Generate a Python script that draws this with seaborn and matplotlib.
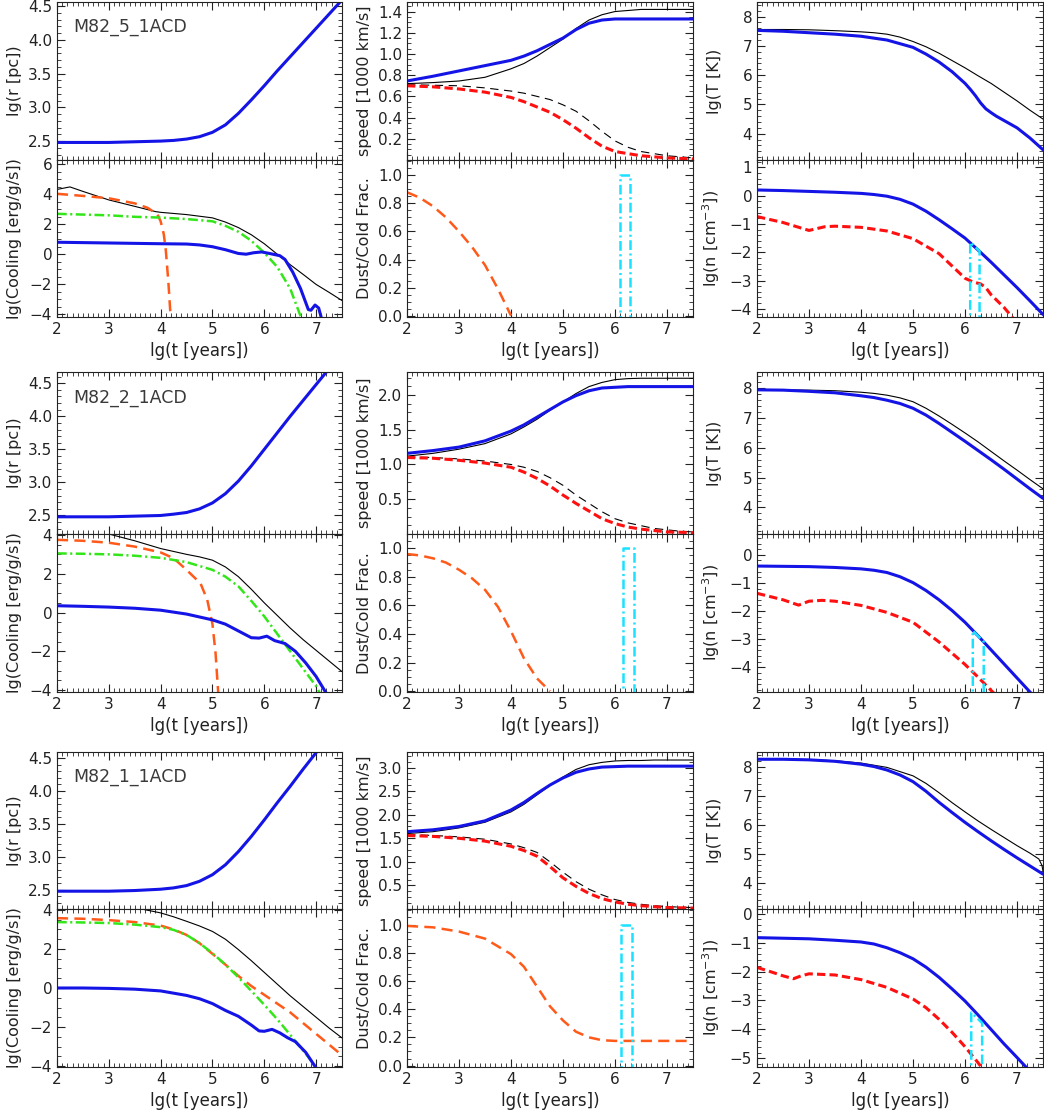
import matplotlib
matplotlib.use("Agg")
import matplotlib.pyplot as plt
from matplotlib.ticker import AutoMinorLocator, MultipleLocator, FuncFormatter
import seaborn as sns

# common time grid (lg t in years) used by most curves
lgt = [2.0, 2.5, 3.0, 3.5, 4.0, 4.25, 4.5, 4.75, 5.0, 5.25, 5.5, 5.75, 6.0, 6.25, 6.5, 6.75, 7.0, 7.25, 7.5]

# ---------------- M82_5_1ACD ----------------
m5_r = [2.48, 2.48, 2.48, 2.49, 2.50, 2.51, 2.53, 2.565, 2.63, 2.74, 2.91, 3.11, 3.32, 3.54, 3.75, 3.96, 4.17, 4.38, 4.59]
m5_cool_tot_t = [2.0, 2.25, 2.5, 3.0, 3.5, 3.9, 4.0, 4.5, 5.0, 5.25, 5.5, 5.75, 6.0, 6.25, 6.5, 6.75, 7.0, 7.25, 7.5]
m5_cool_tot = [4.33, 4.5, 4.2, 3.63, 3.2, 2.85, 2.8, 2.65, 2.43, 2.15, 1.78, 1.3, 0.7, 0.0, -0.7, -1.35, -2.02, -2.55, -3.1]
m5_cool_dust_t = [2.0, 2.5, 3.0, 3.5, 3.75, 3.94, 4.0, 4.06, 4.1, 4.15, 4.2]
m5_cool_dust = [4.04, 3.9, 3.74, 3.4, 3.1, 2.65, 2.2, 1.35, 0.26, -1.9, -4.6]
m5_cool_gas_t = [2.0, 2.5, 3.0, 3.5, 4.0, 4.5, 5.0, 5.25, 5.5, 5.75, 6.0, 6.25, 6.5, 6.75]
m5_cool_gas = [2.7, 2.65, 2.6, 2.5, 2.45, 2.35, 2.2, 1.9, 1.5, 0.9, 0.1, -0.85, -2.3, -4.6]
m5_cool_hot_t = [2.0, 3.0, 4.0, 4.5, 4.75, 5.0, 5.25, 5.5, 5.65, 5.8, 5.95, 6.1, 6.3, 6.4, 6.55, 6.7, 6.85, 6.9, 6.98, 7.05, 7.12]
m5_cool_hot = [0.8, 0.75, 0.7, 0.68, 0.62, 0.5, 0.3, 0.05, 0.0, 0.1, 0.15, 0.05, -0.1, -0.35, -1.2, -2.3, -3.7, -3.75, -3.4, -3.6, -4.5]
m5_v_tot = [0.72, 0.73, 0.745, 0.78, 0.86, 0.91, 0.98, 1.06, 1.14, 1.24, 1.32, 1.37, 1.40, 1.41, 1.42, 1.42, 1.42, 1.42, 1.42]
m5_v_hot = [0.745, 0.79, 0.84, 0.89, 0.94, 0.98, 1.03, 1.09, 1.15, 1.23, 1.29, 1.32, 1.33, 1.33, 1.33, 1.33, 1.33, 1.33, 1.33]
m5_v_tot_c = [0.71, 0.705, 0.70, 0.68, 0.65, 0.63, 0.60, 0.57, 0.52, 0.46, 0.37, 0.27, 0.18, 0.12, 0.08, 0.06, 0.04, 0.03, 0.02]
m5_v_cold = [0.70, 0.69, 0.67, 0.64, 0.59, 0.55, 0.50, 0.45, 0.38, 0.30, 0.21, 0.13, 0.08, 0.06, 0.04, 0.03, 0.02, 0.015, 0.01]
m5_dust_t = [2.0, 2.25, 2.5, 2.75, 3.0, 3.25, 3.5, 3.75, 4.0]
m5_dust = [0.88, 0.84, 0.78, 0.70, 0.60, 0.49, 0.36, 0.19, 0.0]
m5_window = [6.1, 6.28]
m5_T_tot = [7.56, 7.56, 7.55, 7.52, 7.48, 7.45, 7.40, 7.3, 7.15, 6.97, 6.75, 6.5, 6.25, 5.98, 5.72, 5.42, 5.12, 4.8, 4.5]
m5_T_hot_t = [2.0, 2.5, 3.0, 3.5, 4.0, 4.5, 5.0, 5.25, 5.5, 5.75, 6.0, 6.1, 6.2, 6.3, 6.4, 6.5, 6.6, 6.75, 7.0, 7.25, 7.5]
m5_T_hot = [7.53, 7.5, 7.45, 7.4, 7.33, 7.2, 6.95, 6.72, 6.45, 6.12, 5.72, 5.52, 5.3, 5.05, 4.85, 4.72, 4.6, 4.45, 4.2, 3.85, 3.45]
m5_n_hot = [0.2, 0.18, 0.15, 0.12, 0.08, 0.04, -0.02, -0.13, -0.3, -0.55, -0.85, -1.17, -1.5, -1.92, -2.35, -2.8, -3.25, -3.72, -4.2]
m5_n_cold_t = [2.0, 2.5, 3.0, 3.3, 3.5, 4.0, 4.5, 5.0, 5.5, 6.0, 6.15, 6.3, 6.4, 6.5, 6.75, 7.0]
m5_n_cold = [-0.74, -0.95, -1.23, -1.1, -1.08, -1.12, -1.25, -1.52, -2.05, -2.92, -3.05, -3.12, -3.25, -3.5, -3.95, -4.5]
m5_n_edge = [-1.65, -1.96]

# ---------------- M82_2_1ACD ----------------
m2_r = [2.48, 2.48, 2.48, 2.49, 2.50, 2.52, 2.545, 2.6, 2.69, 2.83, 3.02, 3.25, 3.5, 3.75, 4.0, 4.24, 4.48, 4.72, 4.96]
m2_cool_tot = [4.6, 4.35, 4.05, 3.7, 3.3, 3.15, 3.0, 2.87, 2.7, 2.35, 1.85, 1.2, 0.5, -0.15, -0.8, -1.4, -1.95, -2.5, -3.05]
m2_cool_dust_t = [2.0, 2.5, 3.0, 3.5, 4.0, 4.25, 4.5, 4.77, 4.9, 5.0, 5.06, 5.12]
m2_cool_dust = [3.75, 3.7, 3.6, 3.4, 3.1, 2.8, 2.2, 1.5, 0.65, -0.6, -2.1, -4.5]
m2_cool_gas_t = [2.0, 2.5, 3.0, 3.5, 4.0, 4.5, 5.0, 5.25, 5.5, 5.75, 6.0, 6.25, 6.5, 6.75, 7.0, 7.1]
m2_cool_gas = [3.05, 3.03, 3.0, 2.93, 2.82, 2.6, 2.2, 1.85, 1.35, 0.6, -0.2, -1.1, -2.0, -2.9, -3.8, -4.3]
m2_cool_hot_t = [2.0, 2.5, 3.0, 3.5, 4.0, 4.5, 5.0, 5.25, 5.5, 5.75, 5.9, 6.05, 6.2, 6.4, 6.6, 6.8, 7.0, 7.25]
m2_cool_hot = [0.35, 0.32, 0.28, 0.22, 0.12, -0.08, -0.38, -0.6, -0.95, -1.3, -1.32, -1.22, -1.45, -1.6, -2.0, -2.6, -3.3, -4.4]
m2_v_tot = [1.12, 1.16, 1.22, 1.3, 1.44, 1.54, 1.65, 1.78, 1.9, 2.02, 2.12, 2.18, 2.22, 2.235, 2.24, 2.24, 2.24, 2.24, 2.24]
m2_v_hot = [1.16, 1.2, 1.25, 1.34, 1.48, 1.57, 1.68, 1.79, 1.9, 1.99, 2.06, 2.1, 2.11, 2.12, 2.12, 2.12, 2.12, 2.12, 2.12]
m2_v_tot_c = [1.11, 1.10, 1.08, 1.05, 1.0, 0.96, 0.9, 0.81, 0.7, 0.56, 0.44, 0.32, 0.22, 0.16, 0.12, 0.08, 0.06, 0.04, 0.03]
m2_v_cold = [1.1, 1.09, 1.06, 1.02, 0.96, 0.89, 0.8, 0.69, 0.56, 0.44, 0.33, 0.22, 0.15, 0.1, 0.07, 0.05, 0.03, 0.025, 0.02]
m2_dust_t = [2.0, 2.25, 2.5, 2.75, 3.0, 3.25, 3.5, 3.75, 4.0, 4.25, 4.5, 4.75]
m2_dust = [0.96, 0.95, 0.93, 0.9, 0.85, 0.79, 0.71, 0.59, 0.42, 0.23, 0.09, 0.0]
m2_window = [6.15, 6.36]
m2_T_tot = [7.95, 7.95, 7.94, 7.92, 7.87, 7.83, 7.77, 7.68, 7.55, 7.33, 7.07, 6.79, 6.5, 6.2, 5.88, 5.56, 5.25, 4.93, 4.62]
m2_T_hot = [7.95, 7.94, 7.9, 7.85, 7.75, 7.69, 7.6, 7.49, 7.33, 7.1, 6.82, 6.52, 6.22, 5.91, 5.6, 5.28, 4.95, 4.62, 4.3]
m2_n_hot = [-0.4, -0.41, -0.42, -0.45, -0.5, -0.55, -0.63, -0.78, -0.99, -1.27, -1.6, -1.98, -2.4, -2.88, -3.38, -3.88, -4.38, -4.88, -5.38]
m2_n_cold_t = [2.0, 2.5, 2.8, 3.0, 3.25, 3.5, 4.0, 4.5, 5.0, 5.5, 6.0, 6.25, 6.5, 6.6]
m2_n_cold = [-1.37, -1.6, -1.79, -1.65, -1.62, -1.65, -1.8, -2.05, -2.4, -3.1, -3.9, -4.35, -4.82, -5.0]
m2_n_edge = [-2.7, -3.1]

# ---------------- M82_1_1ACD ----------------
m1_r = [2.48, 2.48, 2.48, 2.49, 2.51, 2.53, 2.565, 2.63, 2.73, 2.88, 3.08, 3.31, 3.56, 3.82, 4.07, 4.33, 4.58, 4.84, 5.1]
m1_cool_tot = [4.8, 4.6, 4.4, 4.12, 3.85, 3.65, 3.42, 3.18, 2.9, 2.5, 1.97, 1.4, 0.8, 0.2, -0.4, -0.95, -1.5, -2.05, -2.56]
m1_cool_dust = [3.58, 3.55, 3.48, 3.38, 3.2, 3.0, 2.72, 2.3, 1.75, 1.2, 0.62, 0.1, -0.35, -0.8, -1.25, -1.8, -2.35, -2.9, -3.45]
m1_cool_gas_t = [2.0, 2.5, 3.0, 3.5, 4.0, 4.25, 4.5, 4.75, 5.0, 5.25, 5.5, 5.75, 6.0, 6.25, 6.5, 6.75, 7.0, 7.1]
m1_cool_gas = [3.38, 3.36, 3.33, 3.25, 3.12, 2.98, 2.72, 2.3, 1.78, 1.2, 0.55, -0.15, -0.86, -1.6, -2.4, -3.2, -4.05, -4.5]
m1_cool_hot_t = [2.0, 2.5, 3.0, 3.5, 4.0, 4.5, 4.75, 5.0, 5.25, 5.5, 5.75, 5.9, 6.0, 6.15, 6.3, 6.45, 6.6, 6.8, 7.0, 7.1]
m1_cool_hot = [0.0, 0.0, -0.02, -0.06, -0.15, -0.38, -0.55, -0.8, -1.15, -1.45, -1.9, -2.2, -2.22, -2.12, -2.3, -2.55, -2.75, -3.3, -4.1, -4.6]
m1_v_tot = [1.6, 1.64, 1.72, 1.84, 2.06, 2.22, 2.42, 2.62, 2.8, 2.96, 3.06, 3.11, 3.14, 3.15, 3.15, 3.16, 3.16, 3.16, 3.16]
m1_v_hot = [1.64, 1.68, 1.75, 1.87, 2.1, 2.26, 2.45, 2.63, 2.78, 2.9, 2.97, 3.01, 3.02, 3.03, 3.03, 3.03, 3.03, 3.03, 3.03]
m1_v_tot_c = [1.58, 1.56, 1.53, 1.48, 1.38, 1.3, 1.2, 1.0, 0.78, 0.58, 0.42, 0.3, 0.2, 0.14, 0.1, 0.07, 0.05, 0.04, 0.03]
m1_v_cold = [1.56, 1.54, 1.5, 1.44, 1.33, 1.24, 1.12, 0.9, 0.66, 0.48, 0.33, 0.22, 0.15, 0.1, 0.07, 0.05, 0.03, 0.025, 0.02]
m1_dust_t = [2.0, 2.5, 3.0, 3.5, 4.0, 4.25, 4.5, 4.75, 5.0, 5.25, 5.5, 5.75, 6.0, 6.5, 7.0, 7.5]
m1_dust = [0.99, 0.98, 0.95, 0.9, 0.79, 0.7, 0.56, 0.42, 0.32, 0.24, 0.2, 0.18, 0.175, 0.175, 0.175, 0.175]
m1_window = [6.12, 6.33]
m1_T_tot_t = [2.0, 2.5, 3.0, 3.5, 4.0, 4.5, 5.0, 5.25, 5.5, 5.75, 6.0, 6.25, 6.5, 6.75, 7.0, 7.25, 7.42, 7.48, 7.5]
m1_T_tot = [8.25, 8.25, 8.24, 8.2, 8.12, 7.97, 7.68, 7.42, 7.1, 6.76, 6.44, 6.13, 5.84, 5.56, 5.28, 5.02, 4.82, 4.6, 4.4]
m1_T_hot = [8.25, 8.25, 8.23, 8.18, 8.08, 8.0, 7.88, 7.71, 7.48, 7.15, 6.77, 6.42, 6.08, 5.76, 5.45, 5.15, 4.86, 4.58, 4.3]
m1_n_hot = [-0.83, -0.85, -0.87, -0.92, -0.98, -1.05, -1.18, -1.35, -1.56, -1.85, -2.2, -2.6, -3.02, -3.5, -4.0, -4.5, -4.97, -5.45, -5.9]
m1_n_cold_t = [2.0, 2.25, 2.5, 2.7, 2.85, 3.0, 3.5, 4.0, 4.5, 5.0, 5.25, 5.5, 5.75, 6.0, 6.25, 6.4]
m1_n_cold = [-1.86, -2.0, -2.15, -2.25, -2.15, -2.08, -2.12, -2.28, -2.55, -2.95, -3.25, -3.65, -4.1, -4.6, -5.15, -5.5]
m1_n_edge = [-3.42, -3.78]

model_names = ["M82_5_1ACD", "M82_2_1ACD", "M82_1_1ACD"]

# colours
BLUE = "#1414e6"
BLACK = "#000000"
RED = "#ff1010"
ORANGE = "#ff5a1a"
GREEN = "#33e619"
CYAN = "#19e1ff"

sns.set_style("ticks")
plt.rcParams["font.family"] = ["DejaVu Sans"]
plt.rcParams["lines.scale_dashes"] = False
plt.rcParams["axes.linewidth"] = 0.8
plt.rcParams["axes.edgecolor"] = "#222222"
plt.rcParams["text.color"] = "#222222"
plt.rcParams["axes.labelcolor"] = "#222222"
plt.rcParams["xtick.color"] = "#222222"
plt.rcParams["ytick.color"] = "#222222"

W, H = 1044, 1115
fig = plt.figure(figsize=(W / 100, H / 100), dpi=100)
col_left = [57, 407, 757]
col_w = [285, 286, 286]
rows = [(2, 160, 317), (372, 534, 692), (752, 909, 1067)]


def minus(fmt):
    return FuncFormatter(lambda v, p: (fmt % v).replace("-", "\u2212"))


def panel(col, top, bot):
    return fig.add_axes([col_left[col] / W, 1 - bot / H, col_w[col] / W, (bot - top) / H])


def draw(ax, x, y, color, lw, dash=None):
    sns.lineplot(x=x, y=y, ax=ax, color=color, linewidth=lw, sort=False, estimator=None)
    if dash is not None:
        ax.lines[-1].set_dashes(dash)


def style(ax, ylim, yticks, fmt, nminor, ylabel, bottom):
    ax.set_xlim(2, 7.5)
    ax.set_ylim(*ylim)
    ax.set_xticks([2, 3, 4, 5, 6, 7])
    ax.xaxis.set_minor_locator(MultipleLocator(0.1))
    ax.set_yticks(yticks)
    ax.yaxis.set_major_formatter(minus(fmt))
    ax.yaxis.set_minor_locator(AutoMinorLocator(nminor))
    ax.tick_params(which="both", direction="in", top=True, right=True, labelsize=11)
    ax.tick_params(which="major", length=6, width=0.8)
    ax.tick_params(which="minor", length=3, width=0.6)
    if bottom:
        ax.set_xlabel("lg(t [years])", fontsize=12)
    else:
        ax.set_xlabel("")
        ax.tick_params(labelbottom=False)
    ax.set_ylabel(ylabel, fontsize=11.5)
    ax.yaxis.set_label_coords(-0.122, 0.5)


models = [
    dict(r=m5_r, ct_t=m5_cool_tot_t, ct=m5_cool_tot, cd_t=m5_cool_dust_t, cd=m5_cool_dust,
         cg_t=m5_cool_gas_t, cg=m5_cool_gas, ch_t=m5_cool_hot_t, ch=m5_cool_hot,
         vt=m5_v_tot, vh=m5_v_hot, vtc=m5_v_tot_c, vc=m5_v_cold, d_t=m5_dust_t, d=m5_dust,
         win=m5_window, Tt_t=lgt, Tt=m5_T_tot, Th_t=m5_T_hot_t, Th=m5_T_hot,
         nh=m5_n_hot, nc_t=m5_n_cold_t, nc=m5_n_cold, ne=m5_n_edge,
         r_lim=(2.22, 4.56), c_lim=(-4.2, 6.3), c_ticks=[-4, -2, 0, 2, 4, 6],
         v_lim=(0.0, 1.49), v_ticks=[0.2, 0.4, 0.6, 0.8, 1.0, 1.2, 1.4], d_lim=(-0.01, 1.11),
         T_lim=(3.1, 8.5), n_lim=(-4.29, 1.26), n_ticks=[-4, -3, -2, -1, 0, 1]),
    dict(r=m2_r, ct_t=lgt, ct=m2_cool_tot, cd_t=m2_cool_dust_t, cd=m2_cool_dust,
         cg_t=m2_cool_gas_t, cg=m2_cool_gas, ch_t=m2_cool_hot_t, ch=m2_cool_hot,
         vt=m2_v_tot, vh=m2_v_hot, vtc=m2_v_tot_c, vc=m2_v_cold, d_t=m2_dust_t, d=m2_dust,
         win=m2_window, Tt_t=lgt, Tt=m2_T_tot, Th_t=lgt, Th=m2_T_hot,
         nh=m2_n_hot, nc_t=m2_n_cold_t, nc=m2_n_cold, ne=m2_n_edge,
         r_lim=(2.22, 4.67), c_lim=(-4.1, 4.05), c_ticks=[-4, -2, 0, 2, 4],
         v_lim=(0.0, 2.33), v_ticks=[0.5, 1.0, 1.5, 2.0], d_lim=(-0.005, 1.1),
         T_lim=(3.1, 8.55), n_lim=(-4.88, 0.74), n_ticks=[-4, -3, -2, -1, 0]),
    dict(r=m1_r, ct_t=lgt, ct=m1_cool_tot, cd_t=lgt, cd=m1_cool_dust,
         cg_t=m1_cool_gas_t, cg=m1_cool_gas, ch_t=m1_cool_hot_t, ch=m1_cool_hot,
         vt=m1_v_tot, vh=m1_v_hot, vtc=m1_v_tot_c, vc=m1_v_cold, d_t=m1_dust_t, d=m1_dust,
         win=m1_window, Tt_t=m1_T_tot_t, Tt=m1_T_tot, Th_t=lgt, Th=m1_T_hot,
         nh=m1_n_hot, nc_t=m1_n_cold_t, nc=m1_n_cold, ne=m1_n_edge,
         r_lim=(2.21, 4.59), c_lim=(-4.05, 4.05), c_ticks=[-4, -2, 0, 2, 4],
         v_lim=(0.0, 3.33), v_ticks=[0.5, 1.0, 1.5, 2.0, 2.5, 3.0], d_lim=(-0.01, 1.11),
         T_lim=(3.1, 8.5), n_lim=(-5.3, 0.16), n_ticks=[-5, -4, -3, -2, -1, 0]),
]

for g, (m, name) in enumerate(zip(models, model_names)):
    top, mid, bot = rows[g]

    # radius
    ax = panel(0, top, mid)
    draw(ax, lgt, m["r"], BLUE, 2.2)
    ax.text(0.056, 0.81, name, transform=ax.transAxes, fontsize=12.5, color="#3a3a3a")
    style(ax, m["r_lim"], [2.5, 3.0, 3.5, 4.0, 4.5], "%.1f", 5, "lg(r [pc])", False)

    # cooling
    ax = panel(0, mid, bot)
    draw(ax, m["ct_t"], m["ct"], BLACK, 0.8)
    draw(ax, m["cd_t"], m["cd"], ORANGE, 1.8, (8, 4.5))
    draw(ax, m["cg_t"], m["cg"], GREEN, 1.8, (7, 2.5, 1.5, 2.5))
    draw(ax, m["ch_t"], m["ch"], BLUE, 2.2)
    style(ax, m["c_lim"], m["c_ticks"], "%.0f", 4, "lg(Cooling [erg/g/s])", True)

    # speed
    ax = panel(1, top, mid)
    draw(ax, lgt, m["vt"], BLACK, 0.8)
    draw(ax, lgt, m["vtc"], BLACK, 0.8, (6, 4))
    draw(ax, lgt, m["vc"], RED, 2.2, (6, 3))
    draw(ax, lgt, m["vh"], BLUE, 2.2)
    style(ax, m["v_lim"], m["v_ticks"], "%.1f", 4, "speed [1000 km/s]", False)

    # dust / cold fraction
    ax = panel(1, mid, bot)
    draw(ax, m["d_t"], m["d"], ORANGE, 1.8, (8, 4.5))
    w0, w1 = m["win"]
    draw(ax, [w0, w0, w1, w1], [-0.2, 1.0, 1.0, -0.2], CYAN, 1.8, (7, 2.5, 1.5, 2.5))
    style(ax, m["d_lim"], [0.0, 0.2, 0.4, 0.6, 0.8, 1.0], "%.1f", 4, "Dust/Cold Frac.", True)

    # temperature
    ax = panel(2, top, mid)
    draw(ax, m["Tt_t"], m["Tt"], BLACK, 0.8)
    draw(ax, m["Th_t"], m["Th"], BLUE, 2.2)
    style(ax, m["T_lim"], [4, 5, 6, 7, 8], "%.0f", 5, "lg(T [K])", False)

    # density
    ax = panel(2, mid, bot)
    draw(ax, lgt, m["nh"], BLUE, 2.2)
    draw(ax, m["nc_t"], m["nc"], RED, 2.2, (6, 3))
    e0, e1 = m["ne"]
    draw(ax, [w0, w0, w1, w1], [-10, e0, e1, -10], CYAN, 1.8, (7, 2.5, 1.5, 2.5))
    style(ax, m["n_lim"], m["n_ticks"], "%.0f", 5, r"lg(n [cm$^{-3}$])", True)

fig.savefig("out.png", dpi=100)
